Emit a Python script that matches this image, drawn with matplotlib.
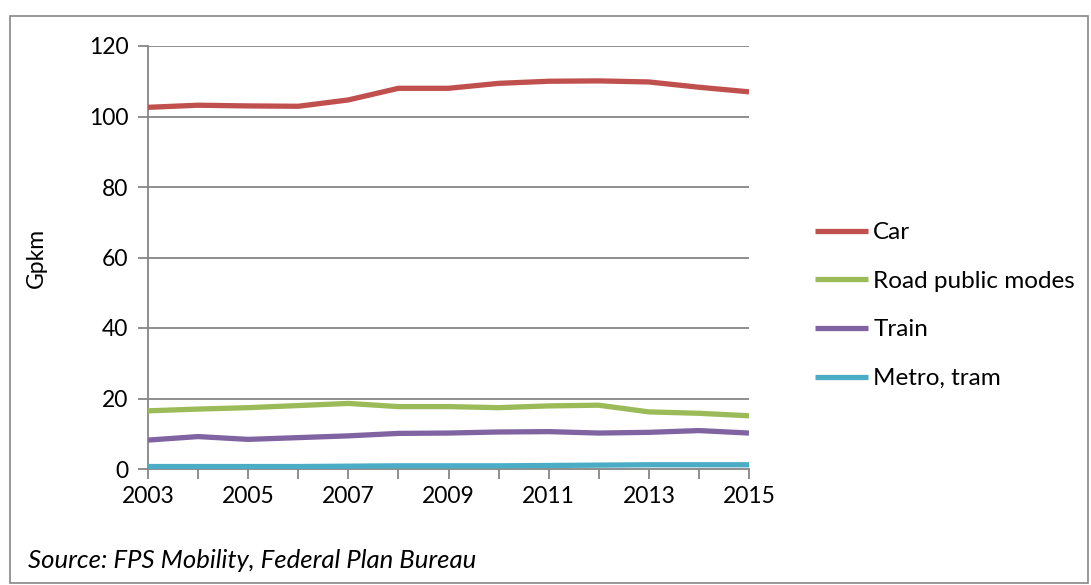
import matplotlib
matplotlib.use("Agg")
import matplotlib.pyplot as plt
from matplotlib.patches import Rectangle

years = list(range(2003, 2016))
car = [102.6, 103.2, 103.0, 102.9, 104.7, 108.0, 108.0, 109.4, 110.0, 110.1, 109.8, 108.3, 107.0]
road_public = [16.5, 17.0, 17.4, 18.0, 18.6, 17.7, 17.7, 17.4, 17.9, 18.1, 16.2, 15.8, 15.1]
train = [8.2, 9.2, 8.4, 8.9, 9.4, 10.1, 10.2, 10.5, 10.6, 10.2, 10.4, 10.9, 10.2]
metro_tram = [0.7, 0.7, 0.7, 0.7, 0.8, 0.9, 0.9, 0.9, 1.0, 1.1, 1.2, 1.2, 1.2]

series_names = ["Car", "Road public modes", "Train", "Metro, tram"]
series_colors = ["#C0504D", "#9BBB59", "#8064A2", "#4BACC6"]
y_ticks = [0, 20, 40, 60, 80, 100, 120]
x_labels = [2003, 2005, 2007, 2009, 2011, 2013, 2015]

plt.rcParams["font.family"] = ["Lato", "DejaVu Sans"]

W, H = 1091, 585
fig = plt.figure(figsize=(W / 100, H / 100), dpi=100)

# outer frame around the chart area
fig.patches.append(Rectangle((10 / W, 1 - 583 / H), 1078 / W, 567 / H,
                             transform=fig.transFigure, fill=False,
                             edgecolor="#868686", linewidth=1.2))

ax = fig.add_axes([148 / W, 1 - 469 / H, (749 - 148) / W, (469 - 46) / H])

grid_color = "#868686"
for y in y_ticks[1:]:
    ax.axhline(y, color=grid_color, linewidth=1.3, zorder=1)

for vals, name, col in zip([car, road_public, train, metro_tram], series_names, series_colors):
    ax.plot(years, vals, color=col, linewidth=3.8, label=name,
            solid_capstyle="butt", solid_joinstyle="round", zorder=3)

ax.set_xlim(2003, 2015)
ax.set_ylim(0, 120)
ax.set_yticks(y_ticks)
ax.set_xticks(years)
ax.set_xticklabels([str(y) if y in x_labels else "" for y in years])

for side in ["top", "right"]:
    ax.spines[side].set_visible(False)
for side in ["left", "bottom"]:
    ax.spines[side].set_color(grid_color)
    ax.spines[side].set_linewidth(1.3)

ax.tick_params(axis="both", colors=grid_color, labelcolor="black",
               labelsize=16.5, width=1.3, length=7, direction="out")
ax.tick_params(axis="y", pad=7)
ax.tick_params(axis="x", pad=5)

ax.set_ylabel("Gpkm", fontsize=16.5, labelpad=30)

leg = fig.legend(loc="upper left", bbox_to_anchor=(815 / W, 1 - 222 / H),
                 frameon=False, fontsize=17.5, handlelength=2.2,
                 handletextpad=0.2, labelspacing=1.14, borderpad=0,
                 borderaxespad=0)

fig.text(28 / W, 1 - 561 / H, "Source: FPS Mobility, Federal Plan Bureau",
         fontsize=18.5, style="italic", va="center", ha="left")

fig.savefig("out.png", dpi=100)
